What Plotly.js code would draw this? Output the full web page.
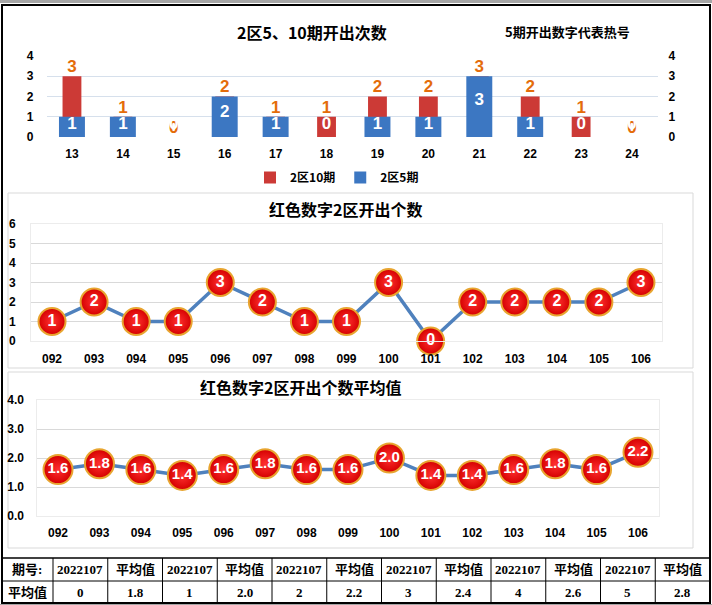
<!DOCTYPE html>
<html>
<head>
<meta charset="utf-8">
<script src="https://cdn.plot.ly/plotly-3.0.1.min.js"></script>
<style>
html,body{margin:0;padding:0;background:#fff;}
#chart{width:712px;height:605px;}
</style>
</head>
<body>
<div id="chart"></div>
<script>
// ---------- data ----------
var barCats = ['13','14','15','16','17','18','19','20','21','22','23','24'];
var tenVals = [3,1,0,2,1,1,2,2,3,2,1,0];      // 2区10期
var fiveVals = [1,1,0,2,1,0,1,1,3,1,0,0];     // 2区5期

var lineCats = ['092','093','094','095','096','097','098','099','100','101','102','103','104','105','106'];
var countVals = [1,2,1,1,3,2,1,1,3,0,2,2,2,2,3];
var avgVals = [1.6,1.8,1.6,1.4,1.6,1.8,1.6,1.6,2.0,1.4,1.4,1.6,1.8,1.6,2.2];

var tableRow1 = ['期号:','2022107','平均值','2022107','平均值','2022107','平均值','2022107','平均值','2022107','平均值','2022107','平均值'];
var tableRow2 = ['平均值','0','1.8','1','2.0','2','2.2','3','2.4','4','2.6','5','2.8'];

// ---------- helpers ----------
var W = 712, H = 605;
function px(x){ return x / W; }
function py(y){ return 1 - y / H; }

var cjk = 'Noto Sans CJK SC, Liberation Sans, sans-serif';
var tickF = {family: 'Liberation Sans, Noto Sans CJK SC, sans-serif', size: 12, color: '#000', weight: 'bold'};
var lineColor = '#4F81BD';
var redFill = '#D40000';

var traces = [];
// Top chart bars
traces.push({type:'bar', x: barCats, y: tenVals, name: '2区10期', width: 0.37,
  marker: {color: '#CC3A36', line: {width: 0}}, xaxis:'x', yaxis:'y', hoverinfo:'skip'});
traces.push({type:'bar', x: barCats, y: fiveVals, name: '2区5期', width: 0.51,
  marker: {color: '#3C77C2', line: {width: 0}}, xaxis:'x', yaxis:'y', hoverinfo:'skip'});
// orange labels (10期 values) above bars, on right axis (same range)
traces.push({type:'scatter', mode:'text', x: barCats, y: tenVals, text: tenVals.map(String),
  textposition:'top center', textfont:{family: tickF.family, size: 17, color:'#E46C0A', weight:'bold'},
  showlegend:false, xaxis:'x', yaxis:'y2', hoverinfo:'skip'});
// white labels (5期 values) inside blue bars
traces.push({type:'scatter', mode:'text', x: barCats, y: fiveVals.map(function(v){return Math.max(v,1)*0.6;}),
  text: fiveVals.map(String), textposition:'middle center',
  textfont:{family: tickF.family, size: 17, color:'#FFFFFF', weight:'bold'},
  showlegend:false, xaxis:'x', yaxis:'y2', hoverinfo:'skip'});

// Middle chart
traces.push({type:'scatter', mode:'lines+markers+text', x: lineCats, y: countVals,
  text: countVals.map(String), textposition:'middle center',
  textfont:{family: tickF.family, size: 16, color:'#FFFFFF', weight:'bold'},
  line:{color: lineColor, width: 3.5},
  marker:{size: 27, color: redFill, gradient:{type:'radial', color:'#FF3030'}, line:{color:'#E8A530', width: 2}},
  showlegend:false, xaxis:'x2', yaxis:'y3', hoverinfo:'skip', cliponaxis:false});

// Bottom chart
traces.push({type:'scatter', mode:'lines+markers+text', x: lineCats, y: avgVals,
  text: avgVals.map(function(v){return v.toFixed(1);}), textposition:'middle center',
  textfont:{family: tickF.family, size: 15, color:'#FFFFFF', weight:'bold'},
  line:{color: lineColor, width: 3.5},
  marker:{size: 29, color: redFill, gradient:{type:'radial', color:'#FF3030'}, line:{color:'#E8A530', width: 2}},
  showlegend:false, xaxis:'x3', yaxis:'y4', hoverinfo:'skip', cliponaxis:false});

// ---------- table (lines + text) ----------
var tblLeft = 2, tblRight = 710, tblTop = 558, tblMid = 581, tblBottom = 603;
var firstColW = 51;
var colW = (tblRight - tblLeft - firstColW) / (tableRow1.length - 1);
var colEdges = [tblLeft];
for (var i = 0; i < tableRow1.length; i++) {
  colEdges.push(colEdges[i] + (i === 0 ? firstColW : colW));
}
var tblFont = {family: 'Liberation Serif, Noto Sans CJK SC, serif', size: 13, color: '#000'};
var shapes = [
  {type:'rect', xref:'paper', yref:'paper', x0:0, x1:1, y0:py(3), y1:1, fillcolor:'#A6A6A6', line:{width:0}, layer:'below'},
  {type:'rect', xref:'paper', yref:'paper', x0:0, x1:1, y0:0, y1:py(604), fillcolor:'#A6A6A6', line:{width:0}, layer:'below'},
  {type:'rect', xref:'paper', yref:'paper', x0:px(8), x1:px(693), y0:py(368), y1:py(193), fillcolor:'rgba(0,0,0,0)', line:{color:'#D9D9D9', width:1}, layer:'below'},
  {type:'rect', xref:'paper', yref:'paper', x0:px(8), x1:px(693), y0:py(548), y1:py(372), fillcolor:'rgba(0,0,0,0)', line:{color:'#D9D9D9', width:1}, layer:'below'},
  {type:'rect', xref:'paper', yref:'paper', x0:px(2), x1:px(710), y0:py(603), y1:py(5), fillcolor:'rgba(0,0,0,0)', line:{color:'#000', width:2}},
  {type:'line', xref:'paper', yref:'paper', x0:px(tblLeft), x1:px(tblRight), y0:py(tblTop), y1:py(tblTop), line:{color:'#000', width:1.5}},
  {type:'line', xref:'paper', yref:'paper', x0:px(tblLeft), x1:px(tblRight), y0:py(tblMid), y1:py(tblMid), line:{color:'#000', width:1}}
];
for (var c = 1; c < colEdges.length - 1; c++) {
  shapes.push({type:'line', xref:'paper', yref:'paper', x0:px(colEdges[c]), x1:px(colEdges[c]),
    y0:py(tblBottom), y1:py(tblTop), line:{color:'#000', width:1}});
}
var annotations = [
  {xref:'paper', yref:'paper', x: px(312), y: py(32), text:'<b>2区5、10期开出次数</b>', showarrow:false,
    font:{family: cjk, size: 16, color:'#000'}, xanchor:'center', yanchor:'middle'},
  {xref:'paper', yref:'paper', x: px(567), y: py(31), text:'<b>5期开出数字代表热号</b>', showarrow:false,
    font:{family: cjk, size: 13, color:'#000'}, xanchor:'center', yanchor:'middle'},
  {xref:'paper', yref:'paper', x: px(345), y: py(209), text:'<b>红色数字2区开出个数</b>', showarrow:false,
    font:{family: cjk, size: 16, color:'#000'}, xanchor:'center', yanchor:'middle'},
  {xref:'paper', yref:'paper', x: px(300), y: py(387), text:'<b>红色数字2区开出个数平均值</b>', showarrow:false,
    font:{family: cjk, size: 16, color:'#000'}, xanchor:'center', yanchor:'middle'}
];
for (var k = 0; k < tableRow1.length; k++) {
  var cx = px((colEdges[k] + colEdges[k+1]) / 2);
  annotations.push({xref:'paper', yref:'paper', x: cx, y: py((tblTop + tblMid) / 2), text:'<b>' + tableRow1[k] + '</b>',
    showarrow:false, font: tblFont, xanchor:'center', yanchor:'middle'});
  annotations.push({xref:'paper', yref:'paper', x: cx, y: py((tblMid + tblBottom) / 2), text:'<b>' + tableRow2[k] + '</b>',
    showarrow:false, font: tblFont, xanchor:'center', yanchor:'middle'});
}

var layout = {
  width: W, height: H,
  margin:{l:0,r:0,t:0,b:0},
  paper_bgcolor:'#FFFFFF', plot_bgcolor:'#FFFFFF',
  barmode:'overlay',
  showlegend:true,
  legend:{orientation:'h', x: px(250), y: py(163), xanchor:'left', yanchor:'top',
    font:{family: cjk, size: 12, color:'#000', weight:'bold'}, bgcolor:'rgba(0,0,0,0)', itemwidth: 30},
  xaxis:{domain:[px(46.5), px(657.5)], type:'category', range:[-0.5, 11.5], anchor:'y',
    showgrid:false, zeroline:false, showline:false, ticks:'', tickfont: tickF, ticklabelstandoff: 8, fixedrange:true},
  yaxis:{domain:[py(137), py(56)], range:[0,4], tickvals:[0,1,2,3,4], anchor:'x',
    gridcolor:'#D6E0EC', gridwidth:1, zeroline:false, showline:false, ticks:'', tickfont: tickF, ticklabelstandoff: 12},
  yaxis2:{overlaying:'y', side:'right', range:[0,4], tickvals:[0,1,2,3,4], anchor:'x',
    showgrid:false, zeroline:false, showline:false, ticks:'', tickfont: tickF, ticklabelstandoff: 10},
  xaxis2:{domain:[px(31), px(662)], type:'category', range:[-0.5, 14.5], anchor:'y3',
    showgrid:false, zeroline:false, showline:true, mirror:true, linecolor:'#ECECEC', ticks:'', tickfont: tickF, ticklabelstandoff: 7},
  yaxis3:{domain:[py(341), py(224)], range:[0,6], dtick:1, anchor:'x2',
    gridcolor:'#D9D9D9', zeroline:false, showline:true, mirror:true, linecolor:'#ECECEC', ticks:'', tickfont: tickF, ticklabelstandoff: 12},
  xaxis3:{domain:[px(37.3), px(658.7)], type:'category', range:[-0.5, 14.5], anchor:'y4',
    showgrid:false, zeroline:false, showline:true, mirror:true, linecolor:'#ECECEC', ticks:'', tickfont: tickF, ticklabelstandoff: 6},
  yaxis4:{domain:[py(516), py(400)], range:[0,4], dtick:1, tickformat:'.1f', anchor:'x3',
    gridcolor:'#D9D9D9', zeroline:false, showline:true, mirror:true, linecolor:'#ECECEC', ticks:'', tickfont: tickF, ticklabelstandoff: 10},
  annotations: annotations,
  shapes: shapes
};

Plotly.newPlot('chart', traces, layout, {staticPlot:true, displayModeBar:false});
</script>
</body>
</html>
